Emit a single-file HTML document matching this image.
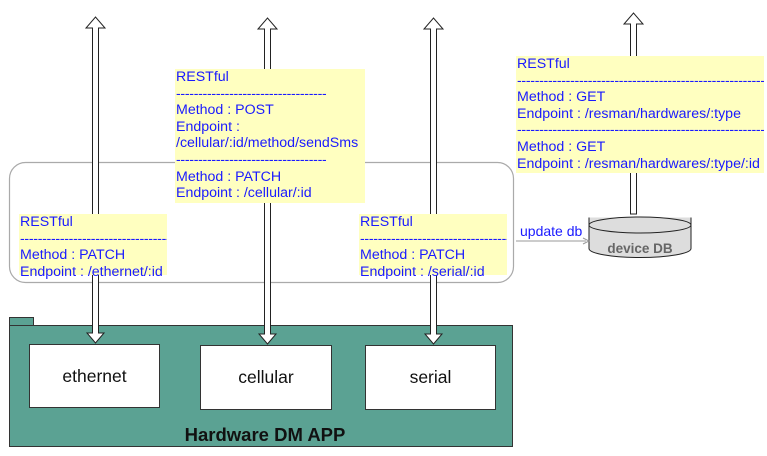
<!DOCTYPE html>
<html><head><meta charset="utf-8"><style>
body{margin:0;background:#fff;width:767px;height:456px;overflow:hidden;position:relative;font-family:"Liberation Sans",sans-serif}
.note{position:absolute;background:#ffffc0;color:#1a1aff;font-size:14.2px;line-height:16.6px;padding:0 0 0 1px;box-sizing:border-box;white-space:nowrap;overflow:visible}
.d{display:block;overflow:hidden;width:100%;letter-spacing:-0.3px}
.box{position:absolute;background:#fff;border:1px solid #333;box-sizing:border-box;display:flex;align-items:center;justify-content:center;font-size:17.5px;color:#111}
svg{position:absolute;left:0;top:0}
</style></head><body>
<svg width="767" height="456">
<rect x="9.5" y="162.5" width="504" height="120" rx="16" fill="none" stroke="#aaa" stroke-width="1.2"/>
<rect x="9.5" y="317.5" width="24" height="9" fill="#5ba293" stroke="#333"/>
<rect x="9.5" y="325.5" width="503" height="121" fill="#5ba293" stroke="#333"/>
</svg>
<div class="box" style="left:29px;top:344px;width:131px;height:64px">ethernet</div>
<div class="box" style="left:200px;top:345px;width:132px;height:65px">cellular</div>
<div class="box" style="left:365px;top:345px;width:131px;height:65px">serial</div>
<div style="position:absolute;left:9px;top:424px;width:504px;text-align:center;font-weight:bold;font-size:18.5px;color:#111;padding-left:8px;box-sizing:border-box">Hardware DM APP</div>
<svg width="767" height="456">
<g fill="#fff" stroke="#222" stroke-width="1">
<path d="M92.5 333V28H86L95.5 17L105 28H98.5V333H104L95.5 343L87 333Z"/>
<path d="M264.5 334V29H258L267.5 18L277 29H270.5V334H276L267.5 344L259 334Z"/>
<path d="M430.5 334V29H424L433.5 18L443 29H436.5V334H442L433.5 344L425 334Z"/>
<path d="M630.5 214V24H624L633.5 13L643 24H636.5V214Z"/>
</g>
<path d="M589 217.5v31a51 9 0 0 0 102 0v-31" fill="#ddd" stroke="#222"/>
<ellipse cx="640" cy="225" rx="51" ry="8" fill="#ddd" stroke="#222"/>
<text x="640" y="253" text-anchor="middle" font-family="Liberation Sans" font-weight="bold" font-size="13.5" fill="#666">device DB</text>
<line x1="516" y1="241" x2="586" y2="241" stroke="#999"/>
<path d="M583 238L589 241L583 244" fill="none" stroke="#999"/>
<text x="520" y="236" font-family="Liberation Sans" font-size="14" fill="#1a1aff">update db</text>
</svg>
<div class="note" style="left:19px;top:214px;width:148px;height:61px">RESTful<span class="d">----------------------------------------------</span>Method : PATCH<br>Endpoint : /ethernet/:id</div>
<div class="note" style="left:175px;top:69px;width:190px;height:134px">RESTful<span class="d" style="width:150px">----------------------------------------------</span>Method : POST<br>Endpoint :<br>/cellular/:id/method/sendSms<span class="d" style="width:150px">----------------------------------------------</span>Method : PATCH<br>Endpoint : /cellular/:id</div>
<div class="note" style="left:359px;top:214px;width:148px;height:61px">RESTful<span class="d">----------------------------------------------</span>Method : PATCH<br>Endpoint : /serial/:id</div>
<div class="note" style="left:516px;top:56px;width:248px;height:117px">RESTful<span class="d">--------------------------------------------------------------------------------</span>Method : GET<br>Endpoint : /resman/hardwares/:type<span class="d">--------------------------------------------------------------------------------</span>Method : GET<br>Endpoint : /resman/hardwares/:type/:id</div>
</body></html>
